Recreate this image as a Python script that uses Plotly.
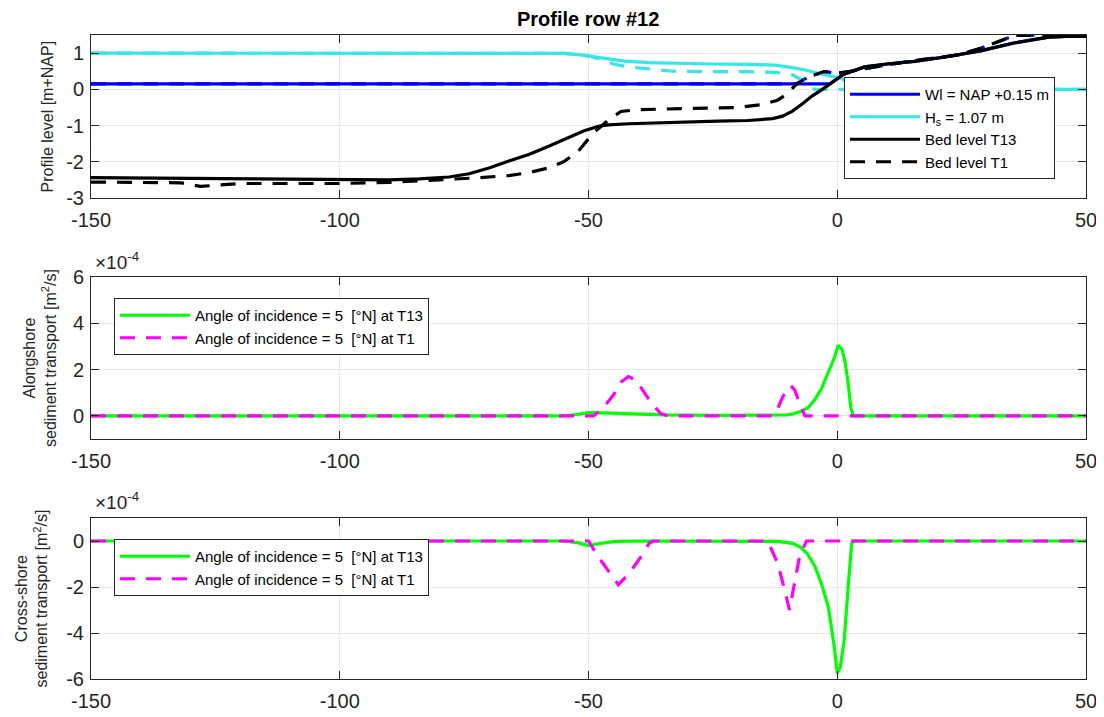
import plotly.graph_objects as go

# ---------------- data ----------------
# Top panel: profile level [m+NAP]
bed_t13_x = [-150, -140, -130, -120, -110, -100, -90, -84, -78, -74, -70, -66, -62, -58, -54, -51, -48, -46,
             -42, -38, -30, -24, -18, -13, -11, -9, -7, -5, -3, -1, 1.3, 3, 5.5, 10, 15.5, 22, 29, 35.5, 42.5, 46, 50]
bed_t13_y = [-2.44, -2.45, -2.47, -2.48, -2.49, -2.51, -2.50, -2.47, -2.42, -2.33, -2.17, -1.98, -1.80, -1.57,
             -1.33, -1.15, -1.02, -0.98, -0.95, -0.93, -0.91, -0.88, -0.86, -0.81, -0.74, -0.60, -0.40, -0.18,
             0.00, 0.20, 0.42, 0.50, 0.62, 0.70, 0.77, 0.90, 1.07, 1.28, 1.44, 1.46, 1.46]

bed_t1_x = [-150, -140, -132, -128, -124, -120, -110, -100, -90, -80, -72, -66, -62, -58, -55, -52, -49, -46,
            -43.5, -40, -35, -30, -25, -20, -15, -12, -10, -8.5, -7, -5.5, -4.5, -2.6, 0, 2, 4.3, 8, 12, 15.6,
            20, 24.4, 29, 32, 35.7, 40, 45, 50]
bed_t1_y = [-2.56, -2.57, -2.58, -2.68, -2.63, -2.60, -2.60, -2.60, -2.57, -2.50, -2.44, -2.38, -2.30, -2.17,
            -2.00, -1.70, -1.20, -0.85, -0.61, -0.56, -0.54, -0.53, -0.52, -0.50, -0.42, -0.30, -0.12, 0.10,
            0.25, 0.36, 0.40, 0.49, 0.45, 0.48, 0.54, 0.62, 0.70, 0.80, 0.87, 0.95, 1.14, 1.30, 1.49, 1.50,
            1.50, 1.50]

wl_t13_x = [-150, -1.5, 1.3, 3, 5.5, 10, 15.5, 22, 29, 35.5, 42.5, 46, 50]
wl_t13_y = [0.15, 0.15, 0.42, 0.50, 0.62, 0.70, 0.77, 0.90, 1.07, 1.28, 1.44, 1.46, 1.46]

wl_t1_x = [-150, -8.3, -7, -5.5, -4.5, -2.6, 0, 2, 4.3, 8, 12, 15.6, 20, 24.4, 29, 32, 35.7, 40, 45, 50]
wl_t1_y = [0.15, 0.15, 0.25, 0.36, 0.40, 0.49, 0.45, 0.48, 0.54, 0.62, 0.70, 0.80, 0.87, 0.95, 1.14, 1.30,
           1.49, 1.50, 1.50, 1.50]

hs_t13_x = [-150, -60, -55, -52, -49.5, -46, -42.8, -38, -32.8, -25, -18, -12.6, -9, -6, -3.5, -1, 1, 2, 3, 50]
hs_t13_y = [1.00, 1.00, 0.99, 0.96, 0.91, 0.84, 0.78, 0.74, 0.72, 0.70, 0.69, 0.67, 0.60, 0.52, 0.43, 0.36,
            0.30, 0.15, 0.00, 0.00]

hs_t1_x = [-150, -60, -55, -52, -49.5, -47, -45, -42, -38, -33, -25, -18, -12, -9, -7, -5.5, -4.5, 50]
hs_t1_y = [1.00, 1.00, 0.99, 0.96, 0.91, 0.80, 0.70, 0.62, 0.56, 0.50, 0.49, 0.49, 0.46, 0.40, 0.25, 0.08,
           0.00, 0.00]

# Middle panel: alongshore sediment transport [x1e-4 m2/s]
along_t13_x = [-150, -55, -52, -50, -47, -42, -35, -25, -15, -10, -8.6, -7.2, -5.8, -4.5, -3.2, -1.6, -0.6,
               0.2, 1, 1.6, 2.2, 2.7, 3.2, 50]
along_t13_y = [0, 0, 0.07, 0.14, 0.13, 0.10, 0.04, 0.02, 0.02, 0.04, 0.10, 0.20, 0.36, 0.70, 1.16, 2.00, 2.50,
               3.05, 2.85, 2.30, 1.40, 0.40, 0, 0]

along_t1_x = [-150, -49, -47, -45, -43.5, -42, -40.5, -39, -37.5, -35.5, -34, -13, -12, -11, -10, -9.3, -8.5,
              -7.5, -6.5, 50]
along_t1_y = [0, 0, 0.36, 0.90, 1.45, 1.70, 1.55, 1.10, 0.60, 0.10, 0, 0, 0.30, 0.80, 1.20, 1.30, 1.10, 0.50,
              0, 0]

# Bottom panel: cross-shore sediment transport [x1e-4 m2/s]
cross_t13_x = [-150, -55, -52, -50, -48, -45, -40, -20, -12, -9, -7.5, -6, -4.5, -3.2, -1.8, -0.6, 0, 0.6,
               1.4, 2.3, 2.9, 3.5, 50]
cross_t13_y = [0, 0, -0.08, -0.20, -0.12, -0.03, 0, 0, -0.02, -0.10, -0.25, -0.55, -1.10, -1.84, -2.85, -4.60,
               -5.75, -5.50, -4.30, -1.70, -0.10, 0, 0]

cross_t1_x = [-150, -50, -48, -46, -44, -42, -39.5, -37.8, -37, -14, -12, -10.6, -9.6, -8.6, -7.6, -6.2, 50]
cross_t1_y = [0, 0, -0.70, -1.30, -1.90, -1.45, -0.70, -0.10, 0, 0, -0.95, -2.10, -3.00, -1.85, -0.70, 0, 0]

x_ticks = [-150, -100, -50, 0, 50]
top_yticks = [-3, -2, -1, 0, 1]
mid_yticks = [0, 2, 4, 6]
bot_yticks = [-6, -4, -2, 0]

# ---------------- style / layout ----------------
PAGE_W, PAGE_H = 1104, 717
OFF = 8  # default body margin of the html page
W, H = PAGE_W - OFF, PAGE_H - OFF
FONT = "Liberation Sans, Arial, Helvetica, sans-serif"
AX = "#262626"
GRID = "#e6e6e6"
DASH = "15px,11px"
LW = 3.2


def fx(px):
    return (px - OFF) / W


def fy(py):
    return 1 - (py - OFF) / H


X0, X1 = 91, 1086
panels = {"top": (35, 198), "mid": (277, 439), "bot": (518, 679)}


def ydom(p):
    a, b = panels[p]
    return [fy(b), fy(a)]


def lab(v):
    return str(v).replace("\u2212", "-")


fig = go.Figure()
_gid = [0]


def add(x, y, color, dash, name, xa, ya, leg, show=True):
    _gid[0] += 1
    fig.add_trace(go.Scatter(
        x=x, y=y, mode="lines", name=name, xaxis=xa, yaxis=ya, legend=leg, showlegend=show,
        legendgroup="g%d" % _gid[0],
        line=dict(color=color, width=LW, dash=dash), hoverinfo="skip"))


BLUE, CYAN, GREEN, MAG = "#0000ff", "#33e8e8", "#00ff00", "#ff00ff"

add(wl_t13_x, wl_t13_y, BLUE, "solid", "Wl = NAP +0.15 m", "x", "y", "legend")
add(wl_t1_x, wl_t1_y, BLUE, DASH, "Wl T1", "x", "y", "legend", False)
add(hs_t13_x, hs_t13_y, CYAN, "solid", "H<sub>s</sub> = 1.07 m", "x", "y", "legend")
add(hs_t1_x, hs_t1_y, CYAN, DASH, "Hs T1", "x", "y", "legend", False)
add(bed_t13_x, bed_t13_y, "#000000", "solid", "Bed level T13", "x", "y", "legend")
add(bed_t1_x, bed_t1_y, "#000000", DASH, "Bed level T1", "x", "y", "legend")

add(along_t13_x, along_t13_y, GREEN, "solid", "Angle of incidence = 5  [°N] at T13", "x2", "y2", "legend2")
add(along_t1_x, along_t1_y, MAG, DASH, "Angle of incidence = 5  [°N] at T1", "x2", "y2", "legend2")

add(cross_t13_x, cross_t13_y, GREEN, "solid", "Angle of incidence = 5  [°N] at T13", "x3", "y3", "legend3")
add(cross_t1_x, cross_t1_y, MAG, DASH, "Angle of incidence = 5  [°N] at T1", "x3", "y3", "legend3")


def axis_common(tv):
    return dict(showline=True, linecolor=AX, linewidth=1, mirror="ticks", ticks="inside", ticklen=8,
                tickcolor=AX, tickwidth=1, showgrid=True, gridcolor=GRID, gridwidth=1, zeroline=False,
                automargin=False, tickmode="array", tickvals=tv, ticktext=[lab(v) for v in tv],
                tickfont=dict(family=FONT, size=20, color=AX))


xdom = [fx(X0), fx(X1)]
layout = dict(
    width=W, height=H, margin=dict(l=0, r=0, t=0, b=0, pad=0, autoexpand=False),
    paper_bgcolor="white", plot_bgcolor="white",
    font=dict(family=FONT, color=AX),
)
for i, (p, yr, yt) in enumerate([("top", [-3, 1.5], top_yticks), ("mid", [-1, 6], mid_yticks),
                                 ("bot", [-6, 1], bot_yticks)], start=1):
    sfx = "" if i == 1 else str(i)
    xa = axis_common(x_ticks)
    xa.update(domain=xdom, range=[-150, 50], anchor="y" + sfx, ticklabelstandoff=4)
    ya = axis_common(yt)
    ya.update(domain=ydom(p), range=yr, anchor="x" + sfx, ticklabelstandoff=2)
    layout["xaxis" + sfx] = xa
    layout["yaxis" + sfx] = ya

leg_common = dict(bgcolor="white", bordercolor=AX, borderwidth=1, font=dict(family=FONT, size=15, color="#000"),
                  xanchor="left", yanchor="top", traceorder="grouped", tracegroupgap=0, itemwidth=70)
layout["legend"] = dict(leg_common, x=fx(844), y=fy(77))
layout["legend2"] = dict(leg_common, x=fx(114), y=fy(298))
layout["legend3"] = dict(leg_common, x=fx(114), y=fy(539))

fig.update_layout(**layout)

ann = [
    dict(text="<b>Profile row #12</b>", x=fx(588), y=fy(19), font=dict(size=20, color="#000")),
    dict(text="Profile level [m+NAP]", x=fx(47), y=fy(116.5), textangle=-90, font=dict(size=16, color=AX)),
    dict(text="Alongshore<br>sediment transport [m<sup>2</sup>/s]", x=fx(40), y=fy(358), textangle=-90,
         font=dict(size=16, color=AX)),
    dict(text="Cross-shore<br>sediment transport [m<sup>2</sup>/s]", x=fx(31), y=fy(598.5), textangle=-90,
         font=dict(size=16, color=AX)),
    dict(text="\u00d710<sup>-4</sup>", x=fx(93), y=fy(275), xanchor="left", yanchor="bottom",
         font=dict(size=19, color=AX)),
    dict(text="\u00d710<sup>-4</sup>", x=fx(93), y=fy(515), xanchor="left", yanchor="bottom",
         font=dict(size=19, color=AX)),
]
for a in ann:
    a.setdefault("xanchor", "center")
    a.setdefault("yanchor", "middle")
    fig.add_annotation(xref="paper", yref="paper", showarrow=False, font_family=FONT, **a)

fig.write_html("out.html")
